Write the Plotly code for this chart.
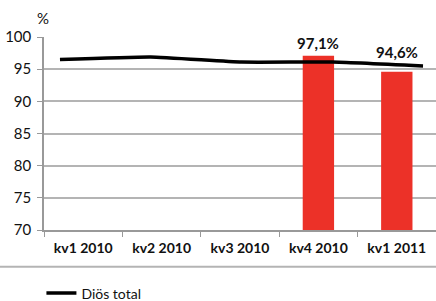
import plotly.graph_objects as go

categories = ["kv1 2010", "kv2 2010", "kv3 2010", "kv4 2010", "kv1 2011"]
bar_values = [None, None, None, 97.1, 94.6]
bar_labels = ["", "", "", "97,1%", "94,6%"]
line_values = [96.5, 96.9, 96.1, 96.1, 95.5]
line_name = "Diös total"
y_ticks = [70, 75, 80, 85, 90, 95, 100]

W, H = 436, 301
L, R, T, B = 44, 0, 37, 71
grid = "#b4b4b4"
font = "Lato"
label_shift = [0, 0, 0, 2, 9]

fig = go.Figure()
fig.add_trace(go.Bar(
    x=categories, y=bar_values,
    marker=dict(color="#ec3128", line=dict(width=0)),
    showlegend=False, hoverinfo="skip",
))
fig.add_trace(go.Scatter(
    x=list(range(len(line_values))), y=line_values, xaxis="x2",
    mode="lines", line=dict(color="#000", width=3.5, shape="spline", smoothing=0.4),
    name=line_name,
))

annotations = [dict(text="%", xref="paper", yref="paper", x=-0.003, y=1.098,
                    xanchor="center", yanchor="middle", showarrow=False,
                    font=dict(family=font, size=15, color="#111"))]
for c, v, t, s in zip(categories, bar_values, bar_labels, label_shift):
    if v is not None:
        annotations.append(dict(x=c, y=v, text=t, showarrow=False, xanchor="center",
                                yanchor="bottom", yshift=s,
                                font=dict(family=font, size=15, color="#111", weight="bold")))

fig.update_layout(
    width=W, height=H,
    margin=dict(l=L, r=R, t=T, b=B),
    paper_bgcolor="white", plot_bgcolor="white",
    font=dict(family=font, color="#111"),
    bargap=0.6,
    xaxis=dict(
        type="category", tickson="boundaries", ticks="outside", ticklen=5,
        tickcolor="#999", showline=True, linecolor="#999", linewidth=1.5,
        showgrid=False, tickfont=dict(family=font, size=14, color="#111", weight="bold"),
        ticklabelstandoff=4, automargin=False,
    ),
    xaxis2=dict(overlaying="x", range=[-0.176, 4.143], visible=False),
    yaxis=dict(
        range=[70, 100], tickvals=y_ticks, ticks="outside", ticklen=5,
        tickcolor="#999", showline=True, linecolor="#999", linewidth=1.5,
        showgrid=True, gridcolor=grid, gridwidth=1.5, zeroline=False,
        tickfont=dict(family=font, size=15, color="#111"),
        ticklabelstandoff=3, automargin=False,
    ),
    legend=dict(
        orientation="h", xref="container", x=0.095, xanchor="left",
        yref="container", y=0.025, yanchor="middle",
        font=dict(family=font, size=14, color="#111"), bgcolor="rgba(0,0,0,0)",
    ),
    shapes=[dict(type="line", xref="paper", yref="paper",
                 x0=-L / (W - L - R), x1=1, y0=-0.19, y1=-0.19,
                 line=dict(color="#b4b4b4", width=2))],
    annotations=annotations,
)

fig.write_html("out.html", config={"displayModeBar": False},
               post_script="document.body.style.margin='0';")
